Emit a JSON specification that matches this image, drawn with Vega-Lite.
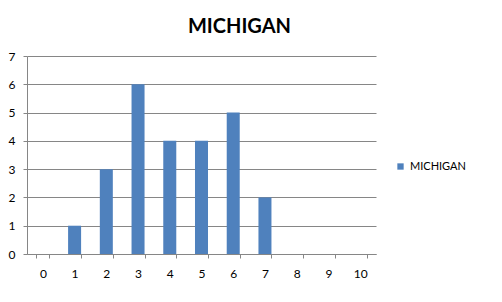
{
  "$schema": "https://vega.github.io/schema/vega-lite/v6.json",
  "width": 349,
  "height": 198,
  "padding": {"left": 5, "top": 17, "right": 5, "bottom": 5},
  "background": "white",
  "title": {
    "text": "MICHIGAN",
    "font": "Lato",
    "fontSize": 20,
    "fontWeight": "bold",
    "color": "#000000",
    "anchor": "middle",
    "frame": "bounds",
    "offset": 13,
    "dx": 4
  },
  "data": {
    "values": [
      {"x": 0, "y": 0, "series": "MICHIGAN"},
      {"x": 1, "y": 1, "series": "MICHIGAN"},
      {"x": 2, "y": 3, "series": "MICHIGAN"},
      {"x": 3, "y": 6, "series": "MICHIGAN"},
      {"x": 4, "y": 4, "series": "MICHIGAN"},
      {"x": 5, "y": 4, "series": "MICHIGAN"},
      {"x": 6, "y": 5, "series": "MICHIGAN"},
      {"x": 7, "y": 2, "series": "MICHIGAN"},
      {"x": 8, "y": 0, "series": "MICHIGAN"},
      {"x": 9, "y": 0, "series": "MICHIGAN"},
      {"x": 10, "y": 0, "series": "MICHIGAN"}
    ]
  },
  "mark": {"type": "bar"},
  "encoding": {
    "x": {
      "field": "x",
      "type": "ordinal",
      "sort": "ascending",
      "scale": {"paddingInner": 0.59, "paddingOuter": 0.295},
      "axis": {
        "title": null,
        "labelAngle": 0,
        "tickBand": "extent",
        "tickSize": 4,
        "labelPadding": 10,
        "domainColor": "#868686",
        "tickColor": "#868686",
        "grid": false
      }
    },
    "y": {
      "field": "y",
      "type": "quantitative",
      "scale": {"domain": [0, 7], "nice": false},
      "axis": {
        "title": null,
        "values": [0, 1, 2, 3, 4, 5, 6, 7],
        "tickSize": 4,
        "labelPadding": 8,
        "minExtent": 22,
        "maxExtent": 22,
        "grid": true,
        "gridColor": "#868686",
        "domainColor": "#868686",
        "tickColor": "#868686"
      }
    },
    "color": {
      "field": "series",
      "type": "nominal",
      "scale": {"range": ["#4F81BD"]},
      "legend": {
        "title": null,
        "orient": "none",
        "legendX": 368,
        "legendY": 105,
        "symbolType": "square",
        "symbolSize": 40,
        "labelFontSize": 11,
        "labelFont": "Lato",
        "labelColor": "#000000"
      }
    }
  },
  "config": {
    "view": {"stroke": null},
    "axis": {
      "labelFont": "Lato",
      "labelFontSize": 12,
      "labelColor": "#000000",
      "domainWidth": 1,
      "tickWidth": 1,
      "gridWidth": 1
    }
  }
}
